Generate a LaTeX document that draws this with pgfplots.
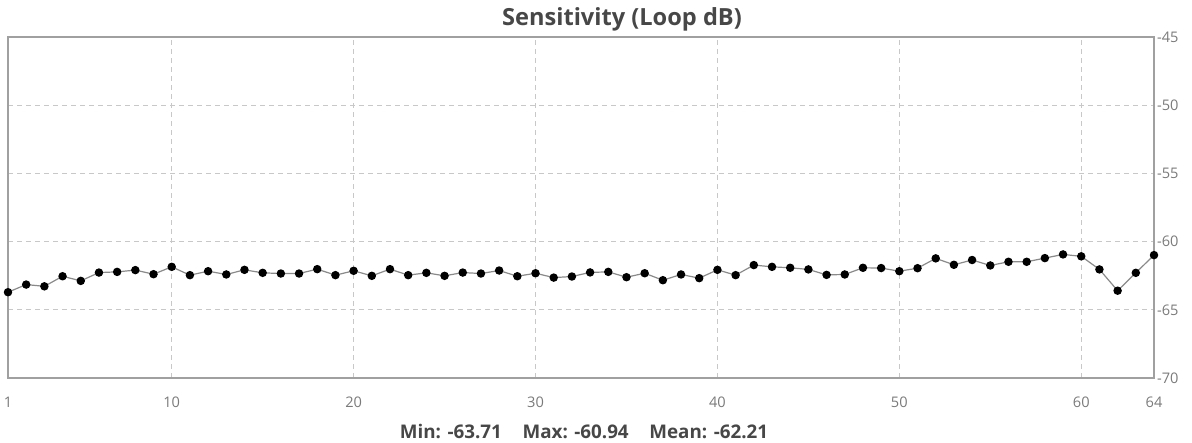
\documentclass[border=0pt]{standalone}
\usepackage{pgfplots}
\pgfplotsset{compat=1.18}
\usepackage{fontspec}
\setmainfont{Open Sans}

\definecolor{axisgray}{HTML}{A0A0A0}
\definecolor{gridgray}{HTML}{C8C8C8}
\definecolor{linegray}{HTML}{8A8A8A}
\definecolor{textgray}{HTML}{7A7A7A}

\begin{document}
\begin{tikzpicture}
% page = 1192 x 443 px at 0.5pt per px
\useasboundingbox (0,0) rectangle (596pt,221.5pt);
\begin{axis}[
  at={(4pt,32.5pt)}, anchor=south west,
  scale only axis,
  width=573pt, height=170.5pt,
  xmin=1, xmax=64, ymin=-70, ymax=-45,
  xtick={1,10,20,30,40,50,60,64},
  xticklabels={1,10,20,30,40,50,60,64},
  ytick={-70,-65,-60,-55,-50,-45},
  yticklabels={-70,-65,-60,-55,-50,-45},
  yticklabel pos=right,
  major tick length=0pt,
  tick label style={font=\fontsize{7.3}{8}\selectfont, text=textgray},
  xticklabel style={yshift=-6pt},
  yticklabel style={xshift=-2pt},
  axis line style={axisgray, line width=1pt},
  grid=major,
  major grid style={gridgray, line width=0.5pt, dash pattern=on 2.5pt off 2pt},
  clip=false,
]
\addplot[linegray, line width=0.6pt, mark=*, mark size=1.8pt,
  mark options={draw=black, fill=black}] coordinates {
(1,-63.71) (2,-63.15) (3,-63.28) (4,-62.54) (5,-62.88) (6,-62.27) (7,-62.22) (8,-62.09)
(9,-62.39) (10,-61.85) (11,-62.46) (12,-62.17) (13,-62.41) (14,-62.07) (15,-62.29) (16,-62.34)
(17,-62.34) (18,-62.02) (19,-62.46) (20,-62.14) (21,-62.51) (22,-62.02) (23,-62.46) (24,-62.29)
(25,-62.51) (26,-62.27) (27,-62.34) (28,-62.12) (29,-62.54) (30,-62.32) (31,-62.64) (32,-62.56)
(33,-62.26) (34,-62.22) (35,-62.61) (36,-62.32) (37,-62.83) (38,-62.41) (39,-62.68) (40,-62.07)
(41,-62.46) (42,-61.72) (43,-61.85) (44,-61.92) (45,-62.04) (46,-62.44) (47,-62.41) (48,-61.92)
(49,-61.94) (50,-62.17) (51,-61.95) (52,-61.23) (53,-61.70) (54,-61.35) (55,-61.75) (56,-61.48)
(57,-61.48) (58,-61.21) (59,-60.94) (60,-61.08) (61,-62.04) (62,-63.60) (63,-62.29) (64,-60.99)
};
% title sits a little right of the axis centre in the reference
\node[font=\bfseries\fontsize{11.8}{13}\selectfont, text=black!72] at (axis description cs:0.5,1) [xshift=20.5pt, yshift=9pt]
  {Sensitivity (Loop dB)};
\node[font=\bfseries\fontsize{9.4}{10}\selectfont, text=black!72] at (axis description cs:0.5,0) [xshift=1.5pt, yshift=-26.5pt]
  {Min: -63.71\hspace{1.1em}Max: -60.94\hspace{1.1em}Mean: -62.21};
\end{axis}
\end{tikzpicture}
\end{document}
